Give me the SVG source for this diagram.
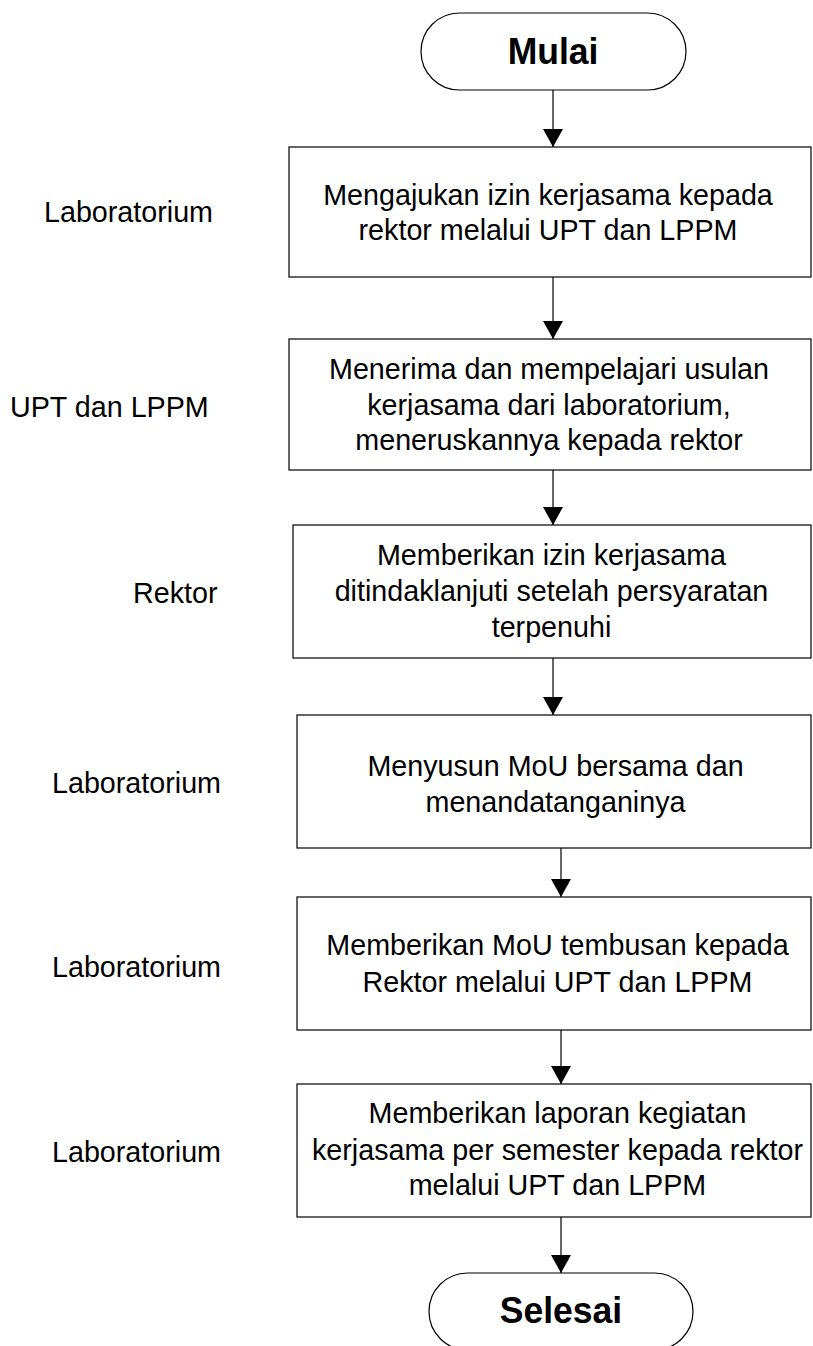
<svg xmlns="http://www.w3.org/2000/svg" width="813" height="1346" viewBox="0 0 813 1346">
<style>
.box{fill:#fff;stroke:#000;stroke-width:1.2}
.t{font-family:"Liberation Sans",Arial,sans-serif;font-size:28.7px;fill:#000;text-anchor:middle}
.lbl{font-family:"Liberation Sans",Arial,sans-serif;font-size:28.7px;fill:#000}
.b{font-family:"Liberation Sans",Arial,sans-serif;font-size:35.5px;font-weight:bold;fill:#000;text-anchor:middle}
.c{stroke:#000;stroke-width:1.2;fill:none}
</style>
<defs>
<marker id="ah" viewBox="0 0 18 20" refX="18" refY="10" markerWidth="18" markerHeight="20" markerUnits="userSpaceOnUse" orient="auto">
<path d="M0,0 L18,10 L0,20 Z" fill="#000"/>
</marker>
</defs>
<rect width="813" height="1346" fill="#fff"/>
<g id="connectors">
<line class="c" x1="553" y1="90" x2="553" y2="147" marker-end="url(#ah)"/>
<line class="c" x1="553" y1="277" x2="553" y2="339" marker-end="url(#ah)"/>
<line class="c" x1="553" y1="470" x2="553" y2="525" marker-end="url(#ah)"/>
<line class="c" x1="553" y1="658" x2="553" y2="715" marker-end="url(#ah)"/>
<line class="c" x1="561" y1="848" x2="561" y2="897" marker-end="url(#ah)"/>
<line class="c" x1="561" y1="1030" x2="561" y2="1084" marker-end="url(#ah)"/>
<line class="c" x1="561" y1="1217" x2="561" y2="1273" marker-end="url(#ah)"/>
</g>
<g id="start">
<rect class="box" x="421" y="13" width="265" height="77" rx="38.5" ry="38.5"/>
<text class="b" x="553" transform="translate(0,64) scale(1,1.04)">Mulai</text>
</g>
<g id="step1">
<rect class="box" x="289" y="147" width="522" height="130"/>
<text class="t" x="548" transform="translate(0,205) scale(1,1.05)">Mengajukan izin kerjasama kepada</text>
<text class="t" x="548" transform="translate(0,240) scale(1,1.05)">rektor melalui UPT dan LPPM</text>
</g>
<g id="lane1"><text class="lbl" x="44" transform="translate(0,222) scale(1,1.05)">Laboratorium</text></g>
<g id="step2">
<rect class="box" x="289" y="339" width="522" height="131"/>
<text class="t" x="549" transform="translate(0,379) scale(1,1.05)">Menerima dan mempelajari usulan</text>
<text class="t" x="549" transform="translate(0,415) scale(1,1.05)">kerjasama dari laboratorium,</text>
<text class="t" x="549" transform="translate(0,450) scale(1,1.05)">meneruskannya kepada rektor</text>
</g>
<g id="lane2"><text class="lbl" x="10" transform="translate(0,417) scale(1,1.05)">UPT dan LPPM</text></g>
<g id="step3">
<rect class="box" x="293" y="525" width="518" height="133"/>
<text class="t" x="551.5" transform="translate(0,565) scale(1,1.05)">Memberikan izin kerjasama</text>
<text class="t" x="551.5" transform="translate(0,601) scale(1,1.05)">ditindaklanjuti setelah persyaratan</text>
<text class="t" x="551.5" transform="translate(0,637) scale(1,1.05)">terpenuhi</text>
</g>
<g id="lane3"><text class="lbl" x="133" transform="translate(0,603) scale(1,1.05)">Rektor</text></g>
<g id="step4">
<rect class="box" x="297" y="715" width="514" height="133"/>
<text class="t" x="555.5" transform="translate(0,776) scale(1,1.05)">Menyusun MoU bersama dan</text>
<text class="t" x="555.5" transform="translate(0,812) scale(1,1.05)">menandatanganinya</text>
</g>
<g id="lane4"><text class="lbl" x="52" transform="translate(0,793) scale(1,1.05)">Laboratorium</text></g>
<g id="step5">
<rect class="box" x="297" y="897" width="514" height="133"/>
<text class="t" x="557.5" transform="translate(0,955) scale(1,1.05)">Memberikan MoU tembusan kepada</text>
<text class="t" x="557.5" transform="translate(0,992) scale(1,1.05)">Rektor melalui UPT dan LPPM</text>
</g>
<g id="lane5"><text class="lbl" x="52" transform="translate(0,977) scale(1,1.05)">Laboratorium</text></g>
<g id="step6">
<rect class="box" x="297" y="1084" width="514" height="133"/>
<text class="t" x="557.5" transform="translate(0,1123) scale(1,1.05)">Memberikan laporan kegiatan</text>
<text class="t" x="557.5" transform="translate(0,1160) scale(1,1.05)">kerjasama per semester kepada rektor</text>
<text class="t" x="557.5" transform="translate(0,1195) scale(1,1.05)">melalui UPT dan LPPM</text>
</g>
<g id="lane6"><text class="lbl" x="52" transform="translate(0,1162) scale(1,1.05)">Laboratorium</text></g>
<g id="end">
<rect class="box" x="429" y="1273" width="264" height="77" rx="38.5" ry="38.5"/>
<text class="b" x="561" transform="translate(0,1323) scale(1,1.04)">Selesai</text>
</g>
</svg>
